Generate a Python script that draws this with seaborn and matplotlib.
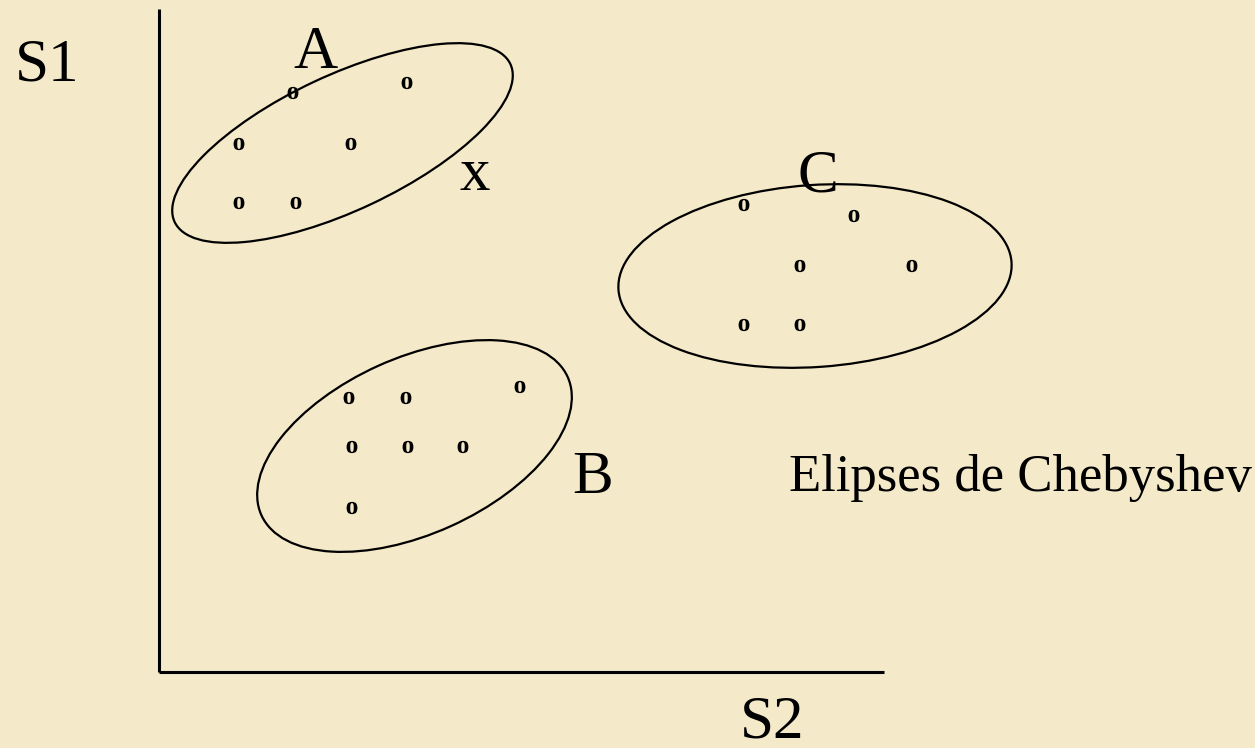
import matplotlib
matplotlib.use("Agg")
import matplotlib.pyplot as plt
from matplotlib.patches import Ellipse
import seaborn as sns
import pandas as pd

sns.set_theme(style="white")
plt.rcParams['font.family'] = ['Liberation Serif', 'DejaVu Serif']
plt.rcParams['text.color'] = 'black'
plt.rcParams['mathtext.fontset'] = 'custom'
plt.rcParams['mathtext.bf'] = 'Liberation Serif:bold'
plt.rcParams['mathtext.rm'] = 'Liberation Serif'

# ---- data (S2 horizontal, S1 vertical; origin at the axes corner) ----
group_a_s2 = [134, 248, 80, 192, 80, 137]
group_a_s1 = [579, 589, 528, 528, 469, 469]
group_b_s2 = [190, 247, 361, 193, 249, 304, 193]
group_b_s1 = [274, 274, 285, 225, 225, 225, 164]
group_c_s2 = [585, 695, 641, 753, 585, 641]
group_c_s1 = [467, 456, 406, 406, 347, 347]

# Chebyshev ellipses: centre s2, centre s1, width, height, angle
ellipse_names = ["A", "B", "C"]
ellipse_cx = [183.5, 255.5, 656]
ellipse_cy = [529, 226, 396]
ellipse_w = [371, 336, 394]
ellipse_h = [135, 176, 182]
ellipse_angle = [25.2, 24.3, 4]

df = pd.DataFrame({
    "S2": group_a_s2 + group_b_s2 + group_c_s2,
    "S1": group_a_s1 + group_b_s1 + group_c_s1,
    "grupo": ["A"] * len(group_a_s2) + ["B"] * len(group_b_s2) + ["C"] * len(group_c_s2),
})

fig = plt.figure(figsize=(12.55, 7.48), dpi=100)
bg = "#F4E9C9"
fig.patch.set_facecolor(bg)
ax = fig.add_axes([0, 0, 1, 1])
ax.set_facecolor(bg)
ax.set_xlim(-159, 1096)
ax.set_ylim(-76, 672)
ax.axis("off")

# axes lines
ax.plot([0, 0], [0, 663], color="black", lw=2.2, solid_capstyle="butt")
ax.plot([0, 725], [0, 0], color="black", lw=2.2, solid_capstyle="butt")

# points drawn as bold "o"
sns.scatterplot(data=df, x="S2", y="S1", ax=ax, marker=r"$\mathbf{o}$",
                s=78, color="black", edgecolor="none", linewidth=0, legend=False)

# ellipses
for cx, cy, w, h, ang in zip(ellipse_cx, ellipse_cy, ellipse_w, ellipse_h, ellipse_angle):
    ax.add_patch(Ellipse((cx, cy), w, h, angle=ang, fill=False,
                         edgecolor="black", lw=1.6))

big = 44
ax.text(-144, 592, "S1", fontsize=big, ha="left", va="baseline", color="black")
ax.text(581, -66, "S2", fontsize=big, ha="left", va="baseline", color="black")
ax.text(134, 604, "A", fontsize=big, ha="left", va="baseline", color="black")
ax.text(413, 179, "B", fontsize=big, ha="left", va="baseline", color="black")
ax.text(638, 481, "C", fontsize=big, ha="left", va="baseline", color="black")
ax.text(301, 482, "x", fontsize=big, ha="left", va="baseline", color="black")
ax.text(630, 181, "Elipses de Chebyshev", fontsize=38, ha="left", va="baseline",
        color="black")

fig.savefig("out.png", dpi=100, facecolor=bg)
